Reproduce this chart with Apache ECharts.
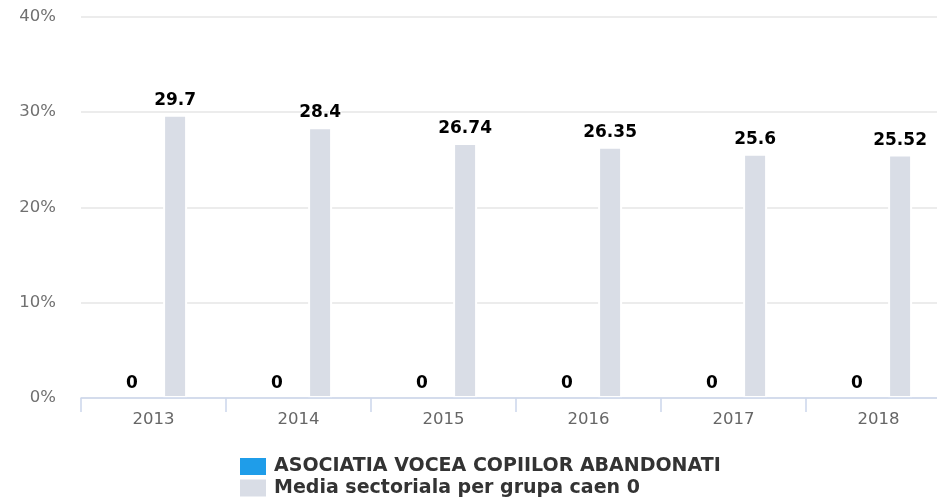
<!DOCTYPE html>
<html lang="ro">
<head>
	<meta charset="UTF-8">
	<title>ASOCIATIA VOCEA COPIILOR ABANDONATI</title>
	<script src="https://cdn.jsdelivr.net/npm/echarts@6/dist/echarts.min.js"></script>
	<style>
		html, body { margin: 0; padding: 0; background: #fff; overflow: hidden; }
		/* graficul original e mai lat decat fereastra si taiat in dreapta */
		#chart { width: 951px; height: 498px; }
	</style>
</head>
<body>
<div id="chart"></div>
<script>
    // date
    var years = ['2013', '2014', '2015', '2016', '2017', '2018'];
    var firmaValues = [0, 0, 0, 0, 0, 0];
    var mediaValues = [29.7, 28.4, 26.74, 26.35, 25.6, 25.52];
    var seriesNames = ['ASOCIATIA VOCEA COPIILOR ABANDONATI', 'Media sectoriala per grupa caen 0'];

    var font = '"DejaVu Sans", sans-serif';

    var labelStyle = {
        show: true,
        position: 'top',
        distance: 6,
        color: '#000',
        fontFamily: font,
        fontSize: 17,
        fontWeight: 'bold',
        textBorderColor: '#fff',
        textBorderWidth: 2
    };

    // o legenda pe rand, una sub alta
    function legendRow(name, top) {
        return {
            left: 240,
            top: top,
            padding: 0,
            itemWidth: 26,
            itemHeight: 17,
            icon: 'rect',
            selectedMode: false,
            itemStyle: { borderWidth: 0 },
            textStyle: {
                fontFamily: font,
                fontSize: 19,
                fontWeight: 'bold',
                color: '#333',
                padding: [0, 0, 0, 3]
            },
            data: [name]
        };
    }

    var myChart = echarts.init(document.getElementById('chart'));
    var option = {
        animation: false,
        grid: {
            left: 81,
            top: 16.5,
            right: 0,
            bottom: 100
        },
        legend: [legendRow(seriesNames[0], 457), legendRow(seriesNames[1], 478.5)],
        xAxis: {
            type: 'category',
            data: years,
            z: 3,
            axisLine: { lineStyle: { color: '#ccd6eb', width: 1.5 } },
            axisTick: { show: true, length: 14, lineStyle: { color: '#ccd6eb', width: 1.5 } },
            axisLabel: { color: '#666', fontFamily: font, fontSize: 16.5, margin: 13 }
        },
        yAxis: {
            type: 'value',
            min: 0,
            max: 40,
            interval: 10,
            axisLine: { show: false },
            axisTick: { show: false },
            axisLabel: { color: '#707070', fontFamily: font, fontSize: 16.5, margin: 25, formatter: '{value}%' },
            splitLine: { lineStyle: { color: '#e6e6e6', width: 1.5 } }
        },
        series: [{
            name: seriesNames[0],
            type: 'bar',
            data: firmaValues,
            barWidth: 24,
            barGap: '80%',
            itemStyle: { color: '#1f9de9' },
            label: labelStyle
        }, {
            name: seriesNames[1],
            type: 'bar',
            data: mediaValues,
            barWidth: 24,
            itemStyle: { color: '#d9dde6', borderColor: '#fff', borderWidth: 2 },
            label: labelStyle
        }]
    };
    myChart.setOption(option);
</script>
</body>
</html>
